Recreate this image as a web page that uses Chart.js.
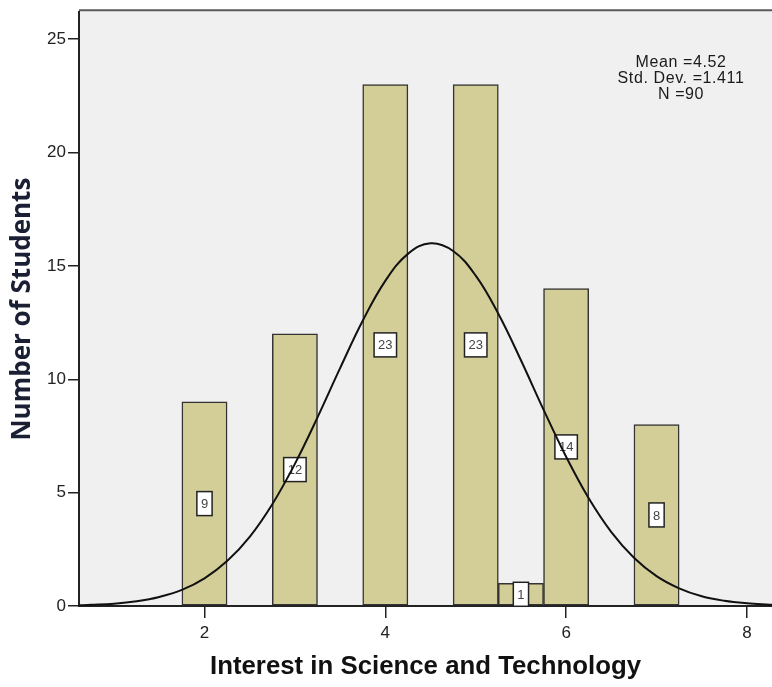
<!DOCTYPE html>
<html>
<head>
<meta charset="utf-8">
<script src="https://cdn.jsdelivr.net/npm/chart.js@4.4.1/dist/chart.umd.min.js"></script>
<style>
  body { margin: 0; background: #ffffff; }
  #histograma { display: block; }
</style>
</head>
<body>
<canvas id="histograma" width="772" height="687"></canvas>
<script>
// datos
var centros_barras = [2, 3, 4, 5, 5.5, 6, 7];
var num_alumnos = [9, 12, 23, 23, 1, 14, 8];

// curva normal superpuesta
var curva_x = [0.6, 0.75, 1, 1.25, 1.5, 1.75, 2, 2.25, 2.5, 2.75, 3, 3.25, 3.5, 3.75, 4, 4.25, 4.5, 4.75, 5, 5.25, 5.5, 5.75, 6, 6.25, 6.5, 6.75, 7, 7.25, 7.5, 7.75, 8, 8.25, 8.3];
var curva_y = [0.03, 0.05, 0.1, 0.21, 0.4, 0.71, 1.22, 1.98, 3.05, 4.49, 6.27, 8.32, 10.49, 12.58, 14.34, 15.53, 16.0, 15.66, 14.57, 12.89, 10.84, 8.66, 6.58, 4.75, 3.26, 2.13, 1.32, 0.78, 0.43, 0.23, 0.12, 0.06, 0.05];

var ticks_x = [2, 4, 6, 8];
var ticks_y = [0, 5, 10, 15, 20, 25];

var texto_estadisticos = ['Mean =4.52', 'Std. Dev. =1.411', 'N =90'];
var titulo_x = 'Interest in Science and Technology';
var titulo_y = 'Number of Students';

/*******************************************************************************
 * Plugins
 *******************************************************************************/

var fondoGrafica = {
	id: 'fondoGrafica',
	beforeDraw: function (chart) {
		var ctx = chart.ctx;
		var a = chart.chartArea;
		ctx.save();
		ctx.fillStyle = '#f0f0f0';
		ctx.fillRect(a.left, a.top - 2, a.right - a.left, a.bottom - a.top + 2);
		ctx.strokeStyle = '#5a5a5a';
		ctx.lineWidth = 2;
		ctx.beginPath();
		ctx.moveTo(a.left, a.top - 2);
		ctx.lineTo(a.right, a.top - 2);
		ctx.stroke();
		ctx.restore();
	}
};

// cajitas con el valor de cada barra
var etiquetasBarras = {
	id: 'etiquetasBarras',
	afterDatasetDraw: function (chart, args) {
		if (args.index !== 1) return;
		var ctx = chart.ctx;
		var meta = chart.getDatasetMeta(1);
		ctx.save();
		ctx.font = '13px "Liberation Sans", Arial, sans-serif';
		ctx.textAlign = 'center';
		ctx.textBaseline = 'middle';
		meta.data.forEach(function (barra, i) {
			var txt = String(num_alumnos[i]);
			var w = ctx.measureText(txt).width + 8;
			var h = 24;
			var cy = (barra.y + barra.base) / 2;
			ctx.fillStyle = '#ffffff';
			ctx.fillRect(barra.x - w / 2, cy - h / 2, w, h);
			ctx.strokeStyle = '#222222';
			ctx.lineWidth = 1.5;
			ctx.strokeRect(barra.x - w / 2, cy - h / 2, w, h);
			ctx.fillStyle = '#444444';
			ctx.fillText(txt, barra.x, cy + 1);
		});
		ctx.restore();
	}
};

var estadisticos = {
	id: 'estadisticos',
	afterDraw: function (chart) {
		var ctx = chart.ctx;
		var a = chart.chartArea;
		ctx.save();
		ctx.font = '16px "Liberation Sans", Arial, sans-serif';
		ctx.letterSpacing = '0.6px';
		ctx.fillStyle = '#1a1a1a';
		ctx.textAlign = 'center';
		ctx.textBaseline = 'alphabetic';
		texto_estadisticos.forEach(function (linea, i) {
			ctx.fillText(linea, a.right - 91, a.top + 55 + i * 16);
		});
		ctx.restore();
	}
};

/*******************************************************************************
 * Grafica
 *******************************************************************************/

var contexto_canvas = document.getElementById('histograma').getContext('2d');

var datos_curva = curva_x.map(function (x, i) { return { x: x, y: curva_y[i] }; });
var datos_barras = centros_barras.map(function (x, i) { return { x: x, y: num_alumnos[i] }; });

new Chart(contexto_canvas, {
	data: {
		datasets: [{
			type: 'line',
			data: datos_curva,
			borderColor: '#111111',
			borderWidth: 2,
			pointRadius: 0,
			tension: 0.4,
			fill: false,
			order: 0
		}, {
			type: 'bar',
			data: datos_barras,
			backgroundColor: '#d3ce98',
			borderColor: '#333333',
			borderWidth: 1.5,
			borderSkipped: false,
			barPercentage: 1,
			categoryPercentage: 1,
			order: 1
		}]
	},
	options: {
		responsive: false,
		animation: false,
		layout: { padding: { top: 6, right: 0, left: 0, bottom: 0 } },
		plugins: {
			legend: { display: false },
			tooltip: { enabled: false }
		},
		scales: {
			x: {
				type: 'linear',
				offset: false,
				min: 0.612,
				max: 8.277,
				afterBuildTicks: function (s) { s.ticks = ticks_x.map(function (v) { return { value: v }; }); },
				afterFit: function (s) { s.height = 81; },
				ticks: {
					color: '#222222',
					padding: 5,
					maxRotation: 0,
					font: { family: '"Liberation Sans", Arial, sans-serif', size: 17 }
				},
				grid: { display: true, offset: false, drawOnChartArea: false, drawTicks: true, tickLength: 12, color: '#222222', lineWidth: 1.5 },
				border: { display: true, color: '#222222', width: 2 },
				title: {
					display: true,
					text: titulo_x,
					color: '#111111',
					padding: { top: 0, bottom: 5 },
					font: { family: '"Liberation Sans", Arial, sans-serif', size: 25.8, weight: 'bold' }
				}
			},
			y: {
				type: 'linear',
				min: 0,
				max: 26.19,
				afterBuildTicks: function (s) { s.ticks = ticks_y.map(function (v) { return { value: v }; }); },
				afterFit: function (s) { s.width = 79; },
				ticks: {
					color: '#222222',
					padding: 2,
					font: { family: '"Liberation Sans", Arial, sans-serif', size: 17 }
				},
				grid: { display: true, drawOnChartArea: false, drawTicks: true, tickLength: 11, color: '#222222', lineWidth: 1.5 },
				border: { display: true, color: '#222222', width: 2 },
				title: {
					display: true,
					text: titulo_y,
					color: '#1a1f33',
					padding: { top: 7, bottom: 0 },
					font: { family: '"Open Sans", sans-serif', size: 26, weight: 'bold' }
				}
			}
		}
	},
	plugins: [fondoGrafica, etiquetasBarras, estadisticos]
});
</script>
</body>
</html>
